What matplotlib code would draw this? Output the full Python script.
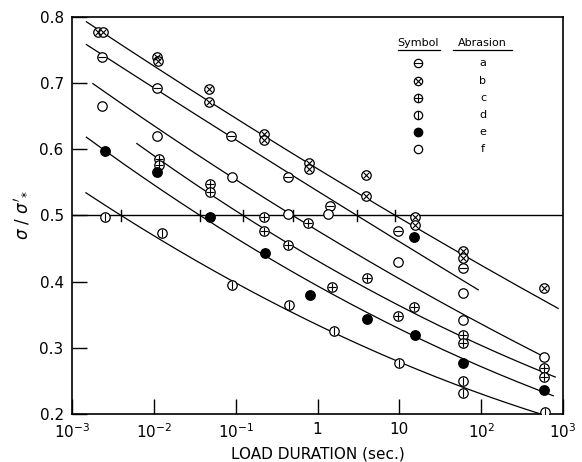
import numpy as np
import matplotlib
matplotlib.use("Agg")
import matplotlib.pyplot as plt

# measured points (load duration in sec, stress ratio)
t_a = [0.0023, 0.011, 0.088, 0.43, 1.43, 9.7, 60]
v_a = [0.739, 0.692, 0.620, 0.558, 0.515, 0.476, 0.421]

t_b = [0.0021, 0.0024, 0.011, 0.0113, 0.047, 0.047, 0.22, 0.22, 0.79, 0.79,
       3.9, 3.9, 15.4, 15.4, 60, 60, 590]
v_b = [0.778, 0.777, 0.739, 0.733, 0.691, 0.671, 0.623, 0.614, 0.579, 0.570,
       0.561, 0.529, 0.497, 0.485, 0.447, 0.436, 0.391]

t_c = [0.0117, 0.0117, 0.048, 0.048, 0.22, 0.22, 0.43, 0.76, 1.5, 4.0,
       9.7, 15.0, 60, 60, 590, 590]
v_c = [0.586, 0.576, 0.547, 0.536, 0.498, 0.476, 0.456, 0.488, 0.392, 0.406,
       0.348, 0.361, 0.320, 0.308, 0.270, 0.256]

t_d = [0.0025, 0.0126, 0.09, 0.45, 1.58, 10, 60, 60, 600]
v_d = [0.498, 0.474, 0.395, 0.365, 0.326, 0.277, 0.250, 0.232, 0.203]

t_e = [0.0025, 0.011, 0.048, 0.23, 0.81, 4.0, 15.0, 15.7, 60, 590]
v_e = [0.597, 0.565, 0.498, 0.444, 0.380, 0.344, 0.468, 0.320, 0.277, 0.236]

t_f = [0.0023, 0.011, 0.09, 0.43, 1.35, 9.7, 60, 60, 590]
v_f = [0.665, 0.620, 0.558, 0.503, 0.502, 0.430, 0.383, 0.342, 0.286]

ct_a = [1.5e-3, 0.0855, 2.72, 14.8, 92]
cv_a = [0.758, 0.621, 0.502, 0.448, 0.388]
ct_b = [1.5e-3, 0.113, 8.9, 60, 873]
cv_b = [0.792, 0.645, 0.500, 0.438, 0.361]
ct_c = [6.2e-3, 0.123, 5.8, 60, 804]
cv_c = [0.608, 0.502, 0.377, 0.317, 0.256]
ct_d = [1.48e-3, 3.97e-3, 0.113, 1.6, 10.2, 60, 573]
cv_d = [0.532, 0.502, 0.395, 0.327, 0.277, 0.233, 0.203]
ct_e = [1.5e-3, 0.0378, 0.229, 4.03, 15.6, 60, 759]
cv_e = [0.615, 0.502, 0.447, 0.345, 0.320, 0.277, 0.232]
ct_f = [1.8e-3, 0.0119, 0.50, 5.8, 55, 560]
cv_f = [0.698, 0.630, 0.503, 0.423, 0.345, 0.292]

x_ticks = [1e-3, 1e-2, 1e-1, 1, 10, 1e2, 1e3]
x_ticklabels = [r'$10^{-3}$', r'$10^{-2}$', r'$10^{-1}$', '1', '10', r'$10^{2}$', r'$10^{3}$']
y_ticks = [0.2, 0.3, 0.4, 0.5, 0.6, 0.7, 0.8]
abrasion = ['a', 'b', 'c', 'd', 'e', 'f']

overlay = {'a': '_', 'b': 'x', 'c': '+', 'd': '|', 'e': None, 'f': None}
MS = 6.8

fig = plt.figure(figsize=(5.82, 4.62), dpi=100)
ax = fig.add_axes([0.1237, 0.1039, 0.8437, 0.8593])


def put_marker(ax, x, y, kind, ms=MS, **kw):
    if kind == 'e':
        ax.plot(x, y, 'o', ms=ms, mfc='black', mec='black', ls='none', zorder=4, **kw)
        return
    ax.plot(x, y, 'o', ms=ms, mfc='white', mec='black', mew=0.9, ls='none', zorder=4, **kw)
    m = overlay[kind]
    if m is not None:
        s = ms * 0.72 if m == 'x' else ms * 0.95
        ax.plot(x, y, m, ms=s, mec='black', mew=0.8, ls='none', zorder=5, **kw)


curves = [(ct_a, cv_a), (ct_b, cv_b), (ct_c, cv_c), (ct_d, cv_d), (ct_e, cv_e), (ct_f, cv_f)]
for ct, cv in curves:
    lt = np.log10(ct)
    p = np.polyfit(lt, cv, 2)
    xs = np.linspace(lt[0], lt[-1], 200)
    ax.plot(10 ** xs, np.polyval(p, xs), color='black', lw=0.9, zorder=2)
    # little mark where curve meets the 0.5 line
    r = np.roots(p - np.array([0, 0, 0.5]))
    r = [z.real for z in r if abs(z.imag) < 1e-9 and lt[0] <= z.real <= lt[-1]]
    for z in r:
        ax.plot([10 ** z, 10 ** z], [0.491, 0.509], color='black', lw=1.0, zorder=2)

ax.axhline(0.5, color='black', lw=1.0, zorder=2)

for kind, t, v in [('a', t_a, v_a), ('b', t_b, v_b), ('c', t_c, v_c),
                   ('d', t_d, v_d), ('e', t_e, v_e), ('f', t_f, v_f)]:
    put_marker(ax, t, v, kind)

ax.set_xscale('log')
ax.set_xlim(1e-3, 1e3)
ax.set_ylim(0.2, 0.8)
ax.set_xticks(x_ticks)
ax.set_xticklabels(x_ticklabels)
ax.xaxis.set_minor_locator(matplotlib.ticker.NullLocator())
ax.set_yticks(y_ticks)
ax.set_yticklabels(['%.1f' % y for y in y_ticks])
ax.tick_params(direction='in', length=11, width=1.0, labelsize=11, pad=6,
               top=False, right=False)
for sp in ax.spines.values():
    sp.set_linewidth(1.2)

ax.set_xlabel('LOAD DURATION (sec.)', fontsize=11, labelpad=4)
ax.set_ylabel(r"$\sigma\ /\ \sigma'_{*}$", fontsize=12, labelpad=6)

# legend box drawn by hand
tr = ax.transAxes
ax.text(0.705, 0.934, 'Symbol', transform=tr, ha='center', va='center', fontsize=8)
ax.text(0.836, 0.934, 'Abrasion', transform=tr, ha='center', va='center', fontsize=8)
ax.plot([0.664, 0.749], [0.917, 0.917], transform=tr, color='black', lw=0.9)
ax.plot([0.776, 0.896], [0.917, 0.917], transform=tr, color='black', lw=0.9)
rows = [0.884, 0.840, 0.797, 0.754, 0.711, 0.668]
for k, yy in zip(abrasion, rows):
    put_marker(ax, [0.705], [yy], k, ms=6.0, transform=tr, clip_on=False)
    ax.text(0.837, yy, k, transform=tr, ha='center', va='center', fontsize=8)

fig.savefig('out.png', dpi=100)
